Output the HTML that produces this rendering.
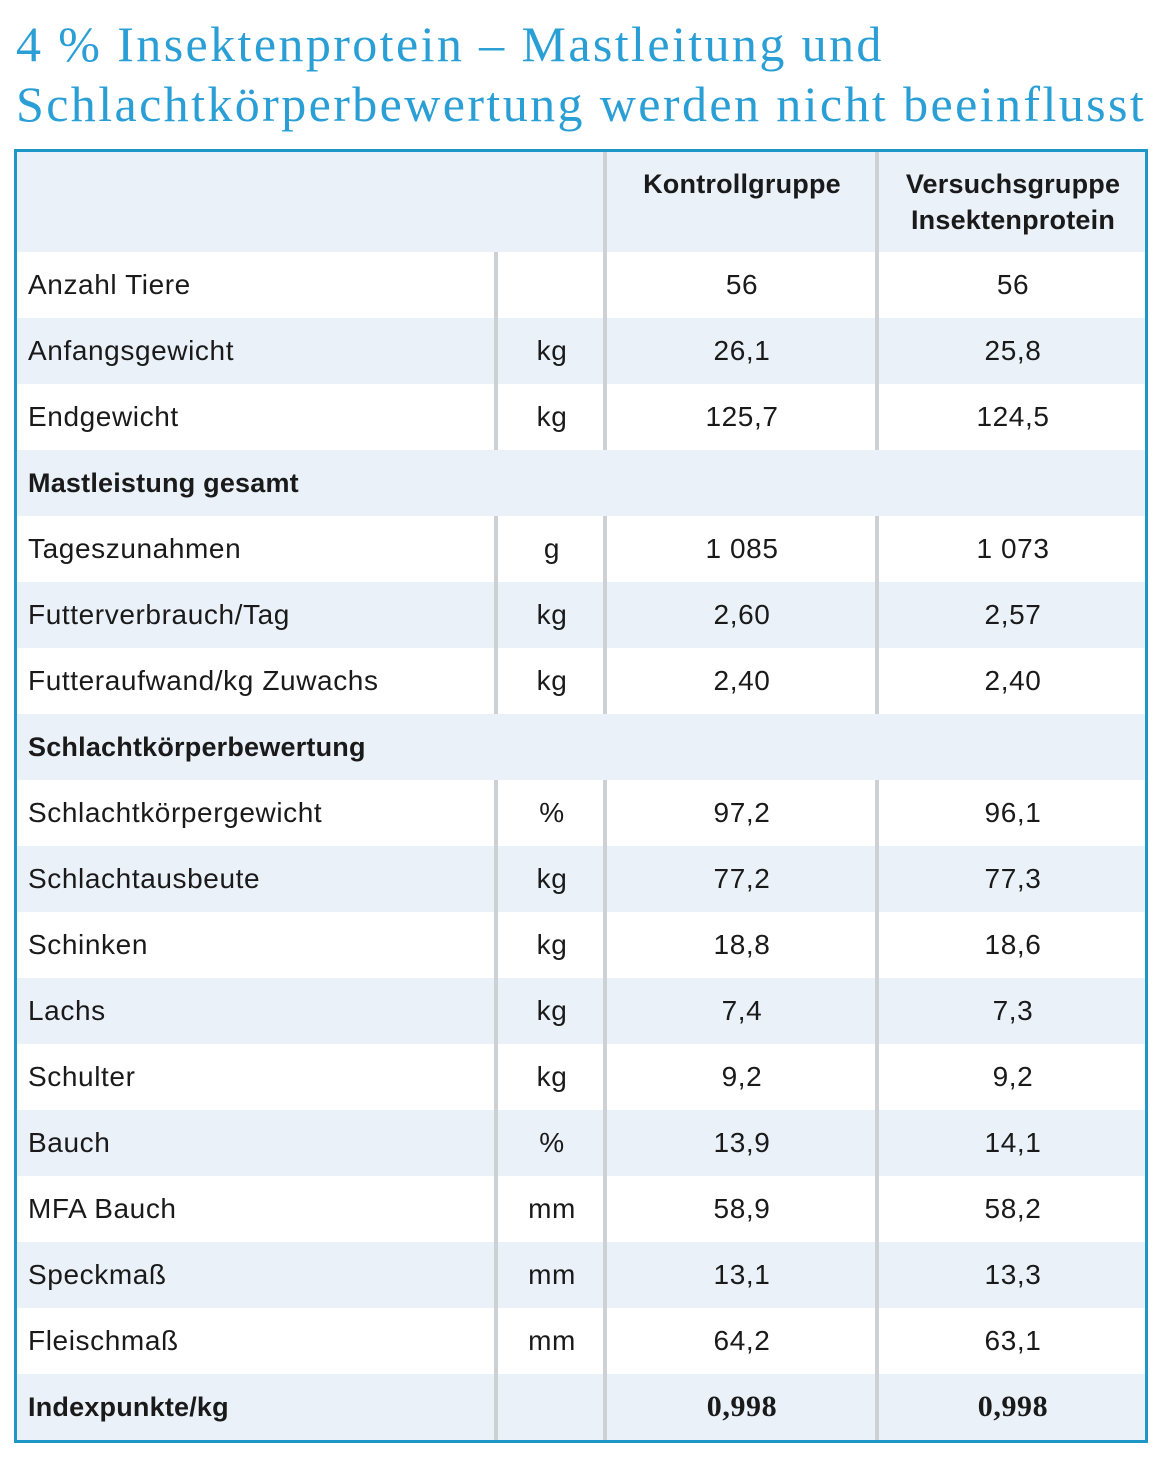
<!DOCTYPE html>
<html><head><meta charset="utf-8"><style>
body{margin:0;width:1170px;height:1458px;background:#fff;position:relative;overflow:hidden;font-family:"Liberation Sans",sans-serif;}
.t{position:absolute;left:16px;color:#2a9fd6;font-family:"Liberation Serif",serif;font-size:50px;white-space:nowrap;line-height:60px;letter-spacing:2.4px;}
.box{position:absolute;left:14px;top:149px;width:1128px;height:1288px;border:3px solid #1e96c8;}
.r{position:absolute;left:0;width:1128px;height:66px;font-size:28px;color:#1a1a1a;letter-spacing:0.6px;}
.b{background:#eaf1f9}
.r span{position:absolute;top:0;line-height:66px;}
.l{left:11px}.u{left:480px;width:110px;text-align:center}.c1{left:589px;width:272px;text-align:center}.c2{left:861px;width:270px;text-align:center}
.v{position:absolute;top:0;width:4px;height:66px;background:#cdd0d4}
.bold{font-weight:bold;font-size:27px;letter-spacing:0.2px}
.ser{font-family:"Liberation Serif",serif;font-weight:bold;font-size:30px}
</style></head><body>
<div class="t" style="top:14px">4 % Insektenprotein – Mastleitung und</div>
<div class="t" style="top:74px">Schlachtkörperbewertung werden nicht beeinflusst</div>
<div class="box">
<div class="r b" style="top:0;height:100px">
<div class="v" style="left:586px;height:100px"></div><div class="v" style="left:858px;height:100px"></div>
<span class="c1 bold" style="top:14px;line-height:36px">Kontrollgruppe</span>
<span class="c2 bold" style="top:14px;line-height:36px">Versuchsgruppe<br>Insektenprotein</span>
</div>
</div>
<script>
var rows=[["Anzahl Tiere","","56","56"],["Anfangsgewicht","kg","26,1","25,8"],["Endgewicht","kg","125,7","124,5"],["Mastleistung gesamt",null],["Tageszunahmen","g","1 085","1 073"],["Futterverbrauch/Tag","kg","2,60","2,57"],["Futteraufwand/kg Zuwachs","kg","2,40","2,40"],["Schlachtkörperbewertung",null],["Schlachtkörpergewicht","%","97,2","96,1"],["Schlachtausbeute","kg","77,2","77,3"],["Schinken","kg","18,8","18,6"],["Lachs","kg","7,4","7,3"],["Schulter","kg","9,2","9,2"],["Bauch","%","13,9","14,1"],["MFA Bauch","mm","58,9","58,2"],["Speckmaß","mm","13,1","13,3"],["Fleischmaß","mm","64,2","63,1"],["Indexpunkte/kg","","0,998","0,998",1]];
var box=document.querySelector('.box'),h='';
rows.forEach(function(r,i){
h+='<div class="r'+(i%2?' b':'')+'" style="top:'+(100+i*66)+'px">';
if(r[1]===null){h+='<span class="l bold">'+r[0]+'</span></div>';return;}
h+='<div class="v" style="left:477px"></div><div class="v" style="left:586px"></div><div class="v" style="left:858px"></div>';
if(r[4]){h+='<span class="l bold">'+r[0]+'</span><span class="c1 ser">'+r[2]+'</span><span class="c2 ser">'+r[3]+'</span>';}
else h+='<span class="l">'+r[0]+'</span><span class="u">'+r[1]+'</span><span class="c1">'+r[2]+'</span><span class="c2">'+r[3]+'</span>';
h+='</div>';});
box.insertAdjacentHTML('beforeend',h);
</script>
</body></html>
